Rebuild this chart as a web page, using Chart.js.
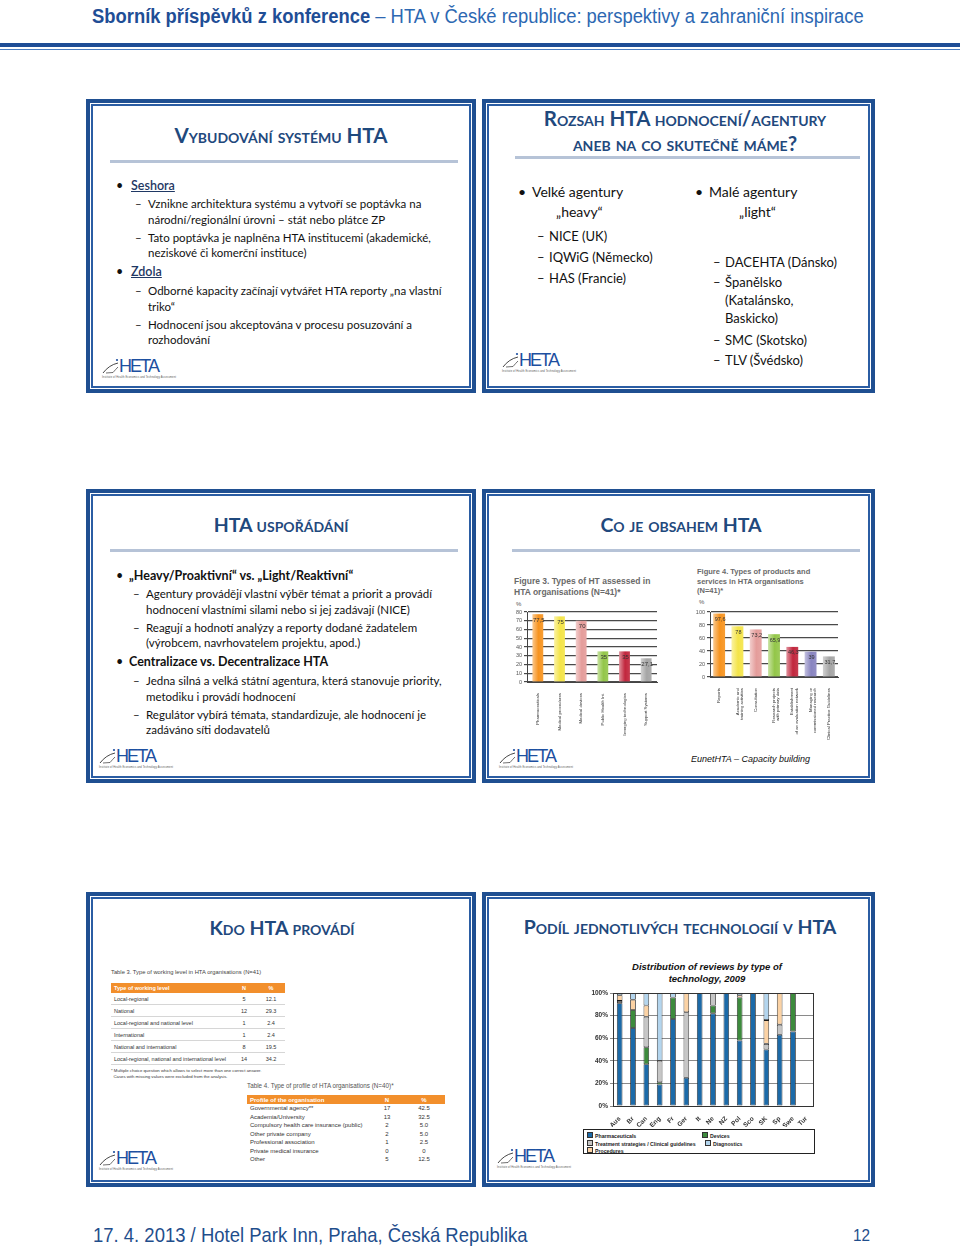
<!DOCTYPE html>
<html>
<head>
<meta charset="utf-8">
<script src="https://cdn.jsdelivr.net/npm/chart.js@4.4.1/dist/chart.umd.min.js"></script>
<style>
  html, body { margin: 0; padding: 0; background: #fff; }
  body { width: 960px; height: 1248px; position: relative; overflow: hidden; font-family: Lato, 'Open Sans', sans-serif; color: #111; }
  .abs { position: absolute; white-space: nowrap; }
  .hdr { font-family: 'Liberation Sans', Arial, sans-serif; transform-origin: 0 0; }
  .slide { position: absolute; box-sizing: border-box; border: 4px solid #1f4f91; }
  .slide::before { content: ''; position: absolute; left: 1px; top: 1px; right: 1px; bottom: 1px; border: 2px solid #2b5da3; }
  .ttl { position: absolute; width: 420px; text-align: center; font-weight: 700; font-variant: small-caps; color: #1f497d; font-size: 19.5px; line-height: 24px; white-space: nowrap; }
  .uline { position: absolute; height: 3px; background: #b6c3d7; }
  .s { font-size: 11.5px; line-height: 16px; }
  .b { font-size: 12.5px; line-height: 16px; }
  .big { font-size: 14px; line-height: 18px; }
  .mid { font-size: 13px; line-height: 18px; }
  canvas { position: absolute; }
  .ftitle { position: absolute; font-family: 'Liberation Sans', Arial, sans-serif; font-weight: 700; color: #6a6a6a; white-space: nowrap; }
  table.tbl { position: absolute; border-collapse: collapse; font-family: 'Liberation Sans', Arial, sans-serif; color: #333; table-layout: fixed; }
  table.tbl th { background: #f28f2c; color: #fff; font-weight: 700; text-align: left; padding: 0 3px; white-space: nowrap; }
  table.tbl td { padding: 0 3px; white-space: nowrap; }
  table.t3 { font-size: 5.5px; }
  table.t3 th { height: 10px; }
  table.t3 td { height: 11px; border-bottom: 1px solid #d6d6d6; }
  table.t4 { font-size: 6px; }
  table.t4 th { height: 9px; }
  table.t4 td { height: 8.5px; line-height: 8px; }
  .c { text-align: center !important; }
</style>
</head>
<body>

<!-- header -->
<div class="abs hdr" style="left:92px;top:4px;font-size:20px;line-height:24px;color:#2d68b2;transform:scaleX(0.92)">
  <b style="color:#1f4e96">Sborník příspěvků z konference</b> – HTA v České republice: perspektivy a zahraniční inspirace
</div>
<div class="abs" style="left:0;top:43px;width:960px;height:4px;background:#1f4e96"></div>
<div class="abs" style="left:0;top:49px;width:960px;height:1px;background:#4a7dc0"></div>

<!-- frames -->
<div class="slide" style="left:86px;top:99px;width:390px;height:294px"></div>
<div class="slide" style="left:482px;top:99px;width:393px;height:294px"></div>
<div class="slide" style="left:86px;top:489px;width:390px;height:294px"></div>
<div class="slide" style="left:482px;top:489px;width:393px;height:294px"></div>
<div class="slide" style="left:86px;top:892px;width:390px;height:295px"></div>
<div class="slide" style="left:482px;top:892px;width:393px;height:295px"></div>

<!-- slide 1 -->
<div class="ttl" style="left:71px;top:123px;font-size:20.5px">Vybudování systému HTA</div>
<div class="uline" style="left:110px;top:160px;width:348px"></div>
<div class="abs b" style="left:116px;top:178px">•</div>
<div class="abs b" style="left:131px;top:178px;color:#1f3864;text-decoration:underline;font-weight:600">Seshora</div>
<div class="abs s" style="left:135px;top:196px">–</div>
<div class="abs s" style="left:148px;top:196px">Vznikne architektura systému a vytvoří se poptávka na</div>
<div class="abs s" style="left:148px;top:212px">národní/regionální úrovni – stát nebo plátce ZP</div>
<div class="abs s" style="left:135px;top:230px">–</div>
<div class="abs s" style="left:148px;top:230px">Tato poptávka je naplněna HTA institucemi (akademické,</div>
<div class="abs s" style="left:148px;top:245px">neziskové či komerční instituce)</div>
<div class="abs b" style="left:116px;top:264px">•</div>
<div class="abs b" style="left:131px;top:264px;color:#1f3864;text-decoration:underline;font-weight:600">Zdola</div>
<div class="abs s" style="left:135px;top:283px">–</div>
<div class="abs s" style="left:148px;top:283px">Odborné kapacity začínají vytvářet HTA reporty „na vlastní</div>
<div class="abs s" style="left:148px;top:299px">triko“</div>
<div class="abs s" style="left:135px;top:317px">–</div>
<div class="abs s" style="left:148px;top:317px">Hodnocení jsou akceptována v procesu posuzování a</div>
<div class="abs s" style="left:148px;top:332px">rozhodování</div>
<div class="logo" data-x="100" data-y="354"></div>

<!-- slide 2 -->
<div class="ttl" style="left:475px;top:106px;font-size:20.5px">Rozsah HTA hodnocení/agentury</div>
<div class="ttl" style="left:475px;top:131px;font-size:20.5px">aneb na co skutečně máme?</div>
<div class="uline" style="left:515px;top:156px;width:345px"></div>
<div class="abs big" style="left:518px;top:183px">•</div>
<div class="abs big" style="left:532px;top:183px">Velké agentury</div>
<div class="abs big" style="left:556px;top:203px">„heavy“</div>
<div class="abs mid" style="left:537px;top:227px">–</div>
<div class="abs mid" style="left:549px;top:227px">NICE (UK)</div>
<div class="abs mid" style="left:537px;top:248px">–</div>
<div class="abs mid" style="left:549px;top:248px">IQWiG (Německo)</div>
<div class="abs mid" style="left:537px;top:269px">–</div>
<div class="abs mid" style="left:549px;top:269px">HAS (Francie)</div>
<div class="abs big" style="left:695px;top:183px">•</div>
<div class="abs big" style="left:709px;top:183px">Malé agentury</div>
<div class="abs big" style="left:739px;top:203px">„light“</div>
<div class="abs mid" style="left:713px;top:253px">–</div>
<div class="abs mid" style="left:725px;top:253px">DACEHTA (Dánsko)</div>
<div class="abs mid" style="left:713px;top:273px">–</div>
<div class="abs mid" style="left:725px;top:273px">Španělsko</div>
<div class="abs mid" style="left:725px;top:291px">(Katalánsko,</div>
<div class="abs mid" style="left:725px;top:309px">Baskicko)</div>
<div class="abs mid" style="left:713px;top:331px">–</div>
<div class="abs mid" style="left:725px;top:331px">SMC (Skotsko)</div>
<div class="abs mid" style="left:713px;top:351px">–</div>
<div class="abs mid" style="left:725px;top:351px">TLV (Švédsko)</div>
<div class="logo" data-x="500" data-y="348"></div>

<!-- slide 3 -->
<div class="ttl" style="left:71px;top:513px">HTA uspořádání</div>
<div class="uline" style="left:110px;top:549px;width:348px"></div>
<div class="abs b" style="left:116px;top:568px">•</div>
<div class="abs b" style="left:129px;top:568px;font-weight:700">„Heavy/Proaktivní“ vs. „Light/Reaktivní“</div>
<div class="abs s" style="left:133px;top:586px">–</div>
<div class="abs s" style="left:146px;top:586px">Agentury provádějí vlastní výběr témat a priorit a provádí</div>
<div class="abs s" style="left:146px;top:602px">hodnocení vlastními silami nebo si jej zadávají (NICE)</div>
<div class="abs s" style="left:133px;top:620px">–</div>
<div class="abs s" style="left:146px;top:620px">Reagují a hodnotí analýzy a reporty dodané žadatelem</div>
<div class="abs s" style="left:146px;top:635px">(výrobcem, navrhovatelem projektu, apod.)</div>
<div class="abs b" style="left:116px;top:654px">•</div>
<div class="abs b" style="left:129px;top:654px;font-weight:700">Centralizace vs. Decentralizace HTA</div>
<div class="abs s" style="left:133px;top:673px">–</div>
<div class="abs s" style="left:146px;top:673px">Jedna silná a velká státní agentura, která stanovuje priority,</div>
<div class="abs s" style="left:146px;top:689px">metodiku i provádí hodnocení</div>
<div class="abs s" style="left:133px;top:707px">–</div>
<div class="abs s" style="left:146px;top:707px">Regulátor vybírá témata, standardizuje, ale hodnocení je</div>
<div class="abs s" style="left:146px;top:722px">zadáváno síti dodavatelů</div>
<div class="logo" data-x="97" data-y="744"></div>

<!-- slide 4 -->
<div class="ttl" style="left:471px;top:513px">Co je obsahem HTA</div>
<div class="uline" style="left:512px;top:549px;width:348px"></div>
<div class="ftitle" style="left:514px;top:576px;font-size:8.5px;line-height:11px">Figure 3. Types of HT assessed in<br>HTA organisations (N=41)*</div>
<div class="ftitle" style="left:516px;top:601px;font-size:6px;font-weight:400;color:#555">%</div>
<canvas id="fig3" width="160" height="136" style="left:505px;top:600px"></canvas>
<div class="ftitle" style="left:697px;top:567px;font-size:7.5px;line-height:9.5px">Figure 4. Types of products and<br>services in HTA organisations<br>(N=41)*</div>
<div class="ftitle" style="left:699px;top:599px;font-size:6px;font-weight:400;color:#555">%</div>
<canvas id="fig4" width="152" height="140" style="left:690px;top:600px"></canvas>
<div class="abs" style="left:691px;top:754px;font-family:'Liberation Sans',Arial,sans-serif;font-style:italic;font-size:9px;color:#111">EunetHTA – Capacity building</div>
<div class="logo" data-x="497" data-y="744"></div>

<!-- slide 5 -->
<div class="ttl" style="left:72px;top:916px">Kdo HTA provádí</div>
<div class="abs" style="left:111px;top:969px;font-family:'Liberation Sans',Arial,sans-serif;font-size:5.8px;color:#444">Table 3. Type of working level in HTA organisations (N=41)</div>
<table class="tbl t3" style="left:111px;top:983px;width:174px">
  <colgroup><col style="width:120px"><col style="width:26px"><col style="width:28px"></colgroup>
  <tr><th>Type of working level</th><th class="c">N</th><th class="c">%</th></tr>
  <tr><td>Local-regional</td><td class="c">5</td><td class="c">12.1</td></tr>
  <tr><td>National</td><td class="c">12</td><td class="c">29.3</td></tr>
  <tr><td>Local-regional and national level</td><td class="c">1</td><td class="c">2.4</td></tr>
  <tr><td>International</td><td class="c">1</td><td class="c">2.4</td></tr>
  <tr><td>National and international</td><td class="c">8</td><td class="c">19.5</td></tr>
  <tr><td>Local-regional, national and international level</td><td class="c">14</td><td class="c">34.2</td></tr>
</table>
<div class="abs" style="left:111px;top:1068px;font-family:'Liberation Sans',Arial,sans-serif;font-size:4.3px;line-height:5.5px;color:#333">* Multiple choice question which allows to select more than one correct answer.<br>&nbsp;&nbsp;Cases with missing values were excluded from the analysis.</div>
<div class="abs" style="left:247px;top:1082px;font-family:'Liberation Sans',Arial,sans-serif;font-size:6.3px;color:#555">Table 4. Type of profile of HTA organisations (N=40)*</div>
<table class="tbl t4" style="left:247px;top:1095px;width:198px">
  <colgroup><col style="width:124px"><col style="width:32px"><col style="width:42px"></colgroup>
  <tr><th>Profile of the organisation</th><th class="c">N</th><th class="c">%</th></tr>
  <tr><td>Governmental agency**</td><td class="c">17</td><td class="c">42.5</td></tr>
  <tr><td>Academia/University</td><td class="c">13</td><td class="c">32.5</td></tr>
  <tr><td>Compulsory health care insurance (public)</td><td class="c">2</td><td class="c">5.0</td></tr>
  <tr><td>Other private company</td><td class="c">2</td><td class="c">5.0</td></tr>
  <tr><td>Professional association</td><td class="c">1</td><td class="c">2.5</td></tr>
  <tr><td>Private medical insurance</td><td class="c">0</td><td class="c">0</td></tr>
  <tr><td>Other</td><td class="c">5</td><td class="c">12.5</td></tr>
</table>
<div class="logo" data-x="97" data-y="1146"></div>

<!-- slide 6 -->
<div class="ttl" style="left:470px;top:915px">Podíl jednotlivých technologií v HTA</div>
<div class="abs" style="left:557px;top:961px;width:300px;text-align:center;font-family:'Liberation Sans',Arial,sans-serif;font-weight:700;font-style:italic;font-size:9.5px;line-height:11.5px;color:#111">Distribution of reviews by type of<br>technology, 2009</div>
<canvas id="fig6" width="234" height="142" style="left:583px;top:985px"></canvas>
<div id="legend6" class="abs" style="left:583px;top:1129px;width:230px;height:23px;border:1px solid #222;font-family:'Liberation Sans',Arial,sans-serif;font-size:5.2px;font-weight:700;color:#222"></div>
<div class="logo" data-x="495" data-y="1144"></div>

<!-- footer -->
<div class="abs hdr" style="left:93px;top:1222px;font-size:21px;line-height:26px;color:#1f4e8c;transform:scaleX(0.88)">17. 4. 2013 / Hotel Park Inn, Praha, Česká Republika</div>
<div class="abs hdr" style="left:853px;top:1226px;font-size:17px;line-height:20px;color:#1f4e8c;transform:scaleX(0.9)">12</div>

<script>
// ---- Figure 3: types of HT assessed (%) ----
const fig3Labels = ['Pharmaceuticals', 'Medical procedures', 'Medical devices', 'Public Health Int.', 'Emerging technologies', 'Support Systems'];
const fig3Values = [77.5, 75, 70, 35, 35, 27.1];
const fig3Colors = ['#f7931e', '#f4e448', '#e49c9a', '#93c649', '#c1263d', '#a5a5a5'];
const fig3Ticks  = [0, 80, 10];   // min, max, step

// ---- Figure 4: products and services (%) ----
const fig4Labels = ['Reports', ['Academic and', 'training activities'], 'Consultation', ['Research projects', 'with primary data'],
                    ['Establishment', 'of an evaluation network'], ['Managing or', 'commissioned research'], 'Clinical Practice Guidelines'];
const fig4Values = [97.6, 78, 73.2, 65.9, 46.3, 39, 31.7];
const fig4Colors = ['#f7931e', '#f4e448', '#e49c9a', '#93c649', '#c1263d', '#8884c0', '#a5a5a5'];
const fig4Ticks  = [0, 100, 20];

// ---- Distribution of reviews by type of technology, 2009 (%) ----
const fig6Countries   = ['Aus', 'Br', 'Can', 'Eng', 'Fr', 'Ger', 'It', 'Ne', 'NZ', 'Pol', 'Sco', 'SK', 'Sp', 'Swe', 'Tur'];
const fig6Pharma      = [91, 69, 37, 19, 77, 25, 100, 82, 100, 58, 100, 50, 63, 66, 0];
const fig6Devices     = [0, 16, 15, 2, 19, 0, 0, 7, 0, 38, 0, 0, 0, 34, 0];
const fig6Treatment   = [2, 0, 27, 19, 0, 58, 0, 11, 0, 0, 0, 5, 9, 0, 0];
const fig6Procedures  = [5, 9, 10, 0, 0, 17, 0, 0, 0, 2, 0, 21, 28, 0, 0];
const fig6Diagnostics = [2, 6, 11, 60, 4, 0, 0, 0, 0, 2, 0, 24, 0, 0, 0];
const fig6Ticks       = [0, 100, 20];

Chart.defaults.font.family = "'Liberation Sans', Arial, sans-serif";
Chart.defaults.animation = false;

// logos (HETA)
document.querySelectorAll('.logo').forEach(el => {
  el.className = 'abs';
  el.style.left = el.dataset.x + 'px';
  el.style.top = el.dataset.y + 'px';
  el.innerHTML =
    '<svg width="80" height="26" viewBox="0 0 80 26">' +
    '<path d="M3 19 Q9 11 18 9" stroke="#333" stroke-width="0.9" fill="none"/>' +
    '<path d="M6 19 L13 18.5 Q16 15 18 13" stroke="#333" stroke-width="0.7" fill="none"/>' +
    '<circle cx="17" cy="6" r="1.1" fill="#1d4fa0"/>' +
    '<text x="19" y="18" font-family="Liberation Sans, Arial" font-size="18" fill="#1d4fa0" textLength="41">HETA</text>' +
    '<text x="2" y="23.5" font-family="Liberation Sans, Arial" font-size="2.6" fill="#555" textLength="74">Institute of Health Economics and Technology Assessment</text>' +
    '</svg>';
});

function shade(hex, amt) {
  const n = parseInt(hex.slice(1), 16);
  const f = v => Math.round(amt > 0 ? v + (255 - v) * amt : v * (1 + amt));
  return `rgb(${f(n >> 16)},${f((n >> 8) & 255)},${f(n & 255)})`;
}

// horizontal light-to-dark fill, like the shaded bars of the source
function barFill(colors, barPx) {
  return c => {
    const base = colors[c.dataIndex] || colors[0];
    const xs = c.chart.scales.x;
    if (c.type !== 'data' || !xs) return base;
    const cx = xs.getPixelForValue(c.dataIndex);
    if (!isFinite(cx)) return base;
    const g = c.chart.ctx.createLinearGradient(cx - barPx / 2, 0, cx + barPx / 2, 0);
    g.addColorStop(0, shade(base, 0.5));
    g.addColorStop(0.55, base);
    g.addColorStop(1, shade(base, 0.1));
    return g;
  };
}

const valueLabels = {
  id: 'valueLabels',
  afterDatasetsDraw(chart, args, opts) {
    const ctx = chart.ctx;
    const meta = chart.getDatasetMeta(0);
    ctx.save();
    ctx.font = `${opts.size || 6}px 'Liberation Sans', Arial, sans-serif`;
    ctx.fillStyle = '#333';
    ctx.textAlign = 'center';
    ctx.textBaseline = 'middle';
    meta.data.forEach((bar, i) => {
      const v = chart.data.datasets[0].data[i];
      ctx.fillText(String(v).replace('.', ','), bar.x + 1, bar.y + 6);
    });
    ctx.restore();
  }
};

function percentBars(id, labels, values, colors, ticks, opt) {
  return new Chart(document.getElementById(id), {
    type: 'bar',
    data: {
      labels,
      datasets: [{
        data: values,
        backgroundColor: barFill(colors, opt.barPx),
        borderWidth: 0,
        barPercentage: opt.barPct,
        categoryPercentage: 1
      }]
    },
    options: {
      responsive: false,
      devicePixelRatio: 1,
      layout: { padding: { top: 12, right: opt.padRight, left: 0, bottom: 0 } },
      plugins: { legend: { display: false }, tooltip: { enabled: false }, valueLabels: { size: opt.labelSize } },
      scales: {
        x: {
          grid: { display: false },
          border: { color: '#444', width: 1 },
          ticks: { autoSkip: false, minRotation: 90, maxRotation: 90, color: '#333', font: { size: 4.3, lineHeight: 1 }, padding: 3 },
          afterFit: s => { s.height = opt.xHeight; }
        },
        y: {
          min: ticks[0], max: ticks[1],
          grid: { color: '#4a4a4a', lineWidth: 1.2, tickLength: 3 },
          border: { color: '#444', width: 1 },
          ticks: { stepSize: ticks[2], autoSkip: false, color: '#555', font: { size: 5.5 }, padding: 2 },
          afterFit: s => { s.width = opt.yWidth; }
        }
      }
    },
    plugins: [valueLabels]
  });
}

const chart3 = percentBars('fig3', fig3Labels, fig3Values, fig3Colors, fig3Ticks,
  { barPx: 11, barPct: 0.5, padRight: 8, xHeight: 54, yWidth: 22, labelSize: 6 });
const chart4 = percentBars('fig4', fig4Labels, fig4Values, fig4Colors, fig4Ticks,
  { barPx: 12, barPct: 0.65, padRight: 4, xHeight: 63, yWidth: 20, labelSize: 5.5 });
// second pass so the gradients see the laid-out scales
chart3.update();
chart4.update();

// ---- stacked chart (slide 6) ----
const fig6Series = [
  { label: 'Pharmaceuticals', data: fig6Pharma, color: '#1c6aa8' },
  { label: 'Devices', data: fig6Devices, color: '#3d8b3d' },
  { label: 'Treatment strategies / Clinical guidelines', data: fig6Treatment, color: '#c6c6c6' },
  { label: 'Procedures', data: fig6Procedures, color: '#fbd2a4' },
  { label: 'Diagnostics', data: fig6Diagnostics, color: '#b3d5ee' }
];

const plotFrame = {
  id: 'plotFrame',
  afterDraw(chart) {
    const a = chart.chartArea, ctx = chart.ctx;
    ctx.save();
    ctx.strokeStyle = '#333';
    ctx.lineWidth = 1;
    ctx.strokeRect(Math.round(a.left) + 0.5, Math.round(a.top) + 0.5, Math.round(a.width), Math.round(a.height));
    ctx.restore();
  }
};

new Chart(document.getElementById('fig6'), {
  type: 'bar',
  data: {
    labels: fig6Countries,
    datasets: fig6Series.map(s => ({
      label: s.label,
      data: s.data,
      backgroundColor: s.color,
      borderColor: '#1a1a1a',
      borderWidth: c => (c.raw ? 0.8 : 0),
      borderSkipped: false,
      barPercentage: 0.42,
      categoryPercentage: 1
    }))
  },
  options: {
    responsive: false,
    devicePixelRatio: 1,
    layout: { padding: { top: 8, right: 4, left: 0, bottom: 0 } },
    plugins: { legend: { display: false }, tooltip: { enabled: false } },
    scales: {
      x: {
        stacked: true,
        grid: { display: false },
        border: { color: '#333' },
        ticks: { autoSkip: false, minRotation: 45, maxRotation: 45, color: '#333', font: { size: 6.5, weight: 'bold' }, padding: 1 },
        afterFit: s => { s.height = 21; }
      },
      y: {
        stacked: true,
        min: fig6Ticks[0], max: fig6Ticks[1],
        grid: { color: '#8a8a8a', lineWidth: 1, tickLength: 3 },
        border: { color: '#333' },
        ticks: { stepSize: fig6Ticks[2], color: '#333', font: { size: 6.5, weight: 'bold' }, padding: 2, callback: v => v + '%' },
        afterFit: s => { s.width = 30; }
      }
    }
  },
  plugins: [plotFrame]
});

// legend box, two columns like the source
const legendOrder = [0, 1, 2, 4, 3];
const legendPos = [[3, 2], [118, 2], [3, 9.5], [121, 9.5], [3, 17]];
const lg = document.getElementById('legend6');
legendOrder.forEach((si, k) => {
  const s = fig6Series[si];
  const d = document.createElement('div');
  d.className = 'abs';
  d.style.left = legendPos[k][0] + 'px';
  d.style.top = legendPos[k][1] + 'px';
  d.style.lineHeight = '6px';
  d.innerHTML = `<span style="display:inline-block;width:4px;height:4px;background:${s.color};border:0.5px solid #333;margin-right:2px;vertical-align:0"></span>${s.label}`;
  lg.appendChild(d);
});
</script>
</body>
</html>
